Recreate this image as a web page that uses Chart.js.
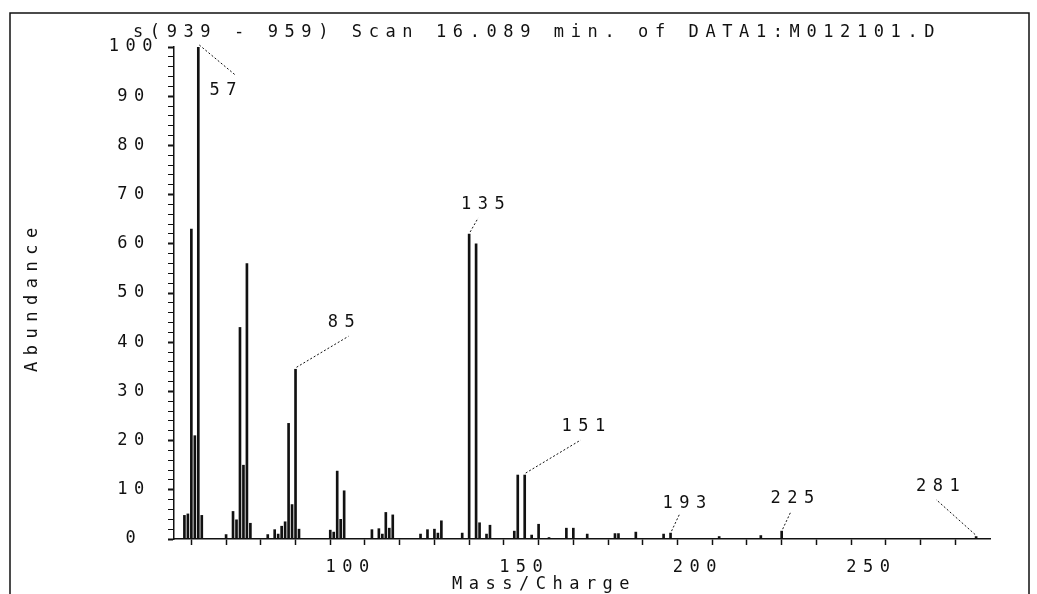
<!DOCTYPE html>
<html>
<head>
<meta charset="utf-8">
<title>Scan 16.089 min. of DATA1:M012101.D</title>
<script src="https://cdn.jsdelivr.net/npm/chart.js@4.4.1/dist/chart.umd.min.js"></script>
<style>
  body { margin: 0; background: #fff; }
  #wrap { width: 1037px; height: 594px; }
</style>
</head>
<body>
<div id="wrap"><canvas id="spectrum" width="1037" height="594"></canvas></div>

<script>
// m/z of every line in the spectrum and its relative abundance (%)
const massCharge = [
  53, 54, 55, 56, 57, 58,
  65, 67, 68, 69, 70, 71, 72,
  77, 79, 80, 81, 82, 83, 84, 85, 86,
  95, 96, 97, 98, 99,
  107, 109, 110, 111, 112, 113,
  121, 123, 125, 126, 127,
  133, 135, 137, 138, 140, 141,
  148, 149, 151, 153, 155, 158,
  163, 165, 169, 177, 178, 183, 191, 193,
  207, 219, 225, 281
];
const abundance = [
  4.8, 5.1, 63, 21, 100, 4.8,
  0.9, 5.6, 3.9, 43, 15, 56, 3.2,
  0.9, 1.9, 1.0, 2.6, 3.5, 23.5, 7.0, 34.5, 2.0,
  1.8, 1.4, 13.8, 4.0, 9.8,
  1.9, 2.1, 1.0, 5.4, 2.2, 4.9,
  1.0, 1.9, 2.0, 1.2, 3.7,
  1.2, 62, 60, 3.3, 1.0, 2.8,
  1.6, 13, 13, 0.8, 3.0, 0.3,
  2.2, 2.2, 1.0, 1.1, 1.1, 1.4, 1.0, 1.2,
  0.5, 0.7, 1.6, 0.5
];
// lines that carry their m/z as a label
const labelledPeaks = [57, 85, 135, 151, 193, 225, 281];

// axis tick labels
const xTickLabels = [100, 150, 200, 250];
const yTickLabels = [0, 10, 20, 30, 40, 50, 60, 70, 80, 90, 100];

const plotTitle = "s(939 - 959) Scan 16.089 min. of DATA1:M012101.D";
const xAxisTitle = "Mass/Charge";
const yAxisTitle = "Abundance";
</script>

<script>
const FONT = "'DejaVu Sans Mono', 'Liberation Mono', monospace";
const INK = '#111';
const SPACING = '6.5px';

// where each peak label sits, relative to the top of its line (px):
// [end of leader dx, dy, text centre dx, dy]
const labelOffsets = {
  57:  [37, 28, 25, 44],
  85:  [53, -33, 46, -47],
  135: [9, -16, 14, -29],
  151: [56, -35, 59, -48],
  193: [9, -19, 14, -30],
  225: [9, -19, 11, -33],
  281: [-40, -37, -38, -50]
};

const decor = {
  id: 'decor',
  beforeLayout(chart) { chart.ctx.letterSpacing = SPACING; },
  beforeDraw(chart) { chart.ctx.letterSpacing = SPACING; },
  afterDraw(chart) {
    const ctx = chart.ctx;
    const xs = chart.scales.x, ys = chart.scales.y;
    ctx.save();

    // page frame
    ctx.strokeStyle = INK;
    ctx.lineWidth = 1.5;
    ctx.beginPath();
    ctx.moveTo(10, 594);
    ctx.lineTo(10, 13);
    ctx.lineTo(1029, 13);
    ctx.lineTo(1029, 594);
    ctx.stroke();

    ctx.fillStyle = INK;
    ctx.font = '17px ' + FONT;
    ctx.textBaseline = 'middle';

    // title
    ctx.letterSpacing = '6.6px';
    ctx.textAlign = 'left';
    ctx.fillText(plotTitle, 133, 33);

    // axis titles
    ctx.letterSpacing = SPACING;
    ctx.fillText(xAxisTitle, 452, 585);
    ctx.save();
    ctx.translate(33, 372);
    ctx.rotate(-Math.PI / 2);
    ctx.fillText(yAxisTitle, 0, 0);
    ctx.restore();

    // peak labels and their dotted leaders
    ctx.textAlign = 'center';
    ctx.lineWidth = 1;
    ctx.setLineDash([2, 2]);
    labelledPeaks.forEach(m => {
      const i = massCharge.indexOf(m);
      const px = xs.getPixelForValue(m);
      const py = ys.getPixelForValue(abundance[i]);
      const o = labelOffsets[m];
      ctx.beginPath();
      ctx.moveTo(px + Math.sign(o[0]) * 1, py - 2);
      ctx.lineTo(px + o[0], py + o[1]);
      ctx.stroke();
      ctx.fillText(String(m), px + o[2] + 3, py + o[3]);
    });

    ctx.restore();
  }
};

new Chart(document.getElementById('spectrum'), {
  type: 'bar',
  data: {
    datasets: [{
      label: 'Abundance',
      data: massCharge.map((m, i) => ({ x: m, y: abundance[i] })),
      backgroundColor: INK,
      borderWidth: 0,
      barThickness: 2
    }]
  },
  options: {
    responsive: false,
    animation: false,
    devicePixelRatio: 1,
    layout: { padding: { left: 0, top: 47, right: 47, bottom: 0 } },
    plugins: {
      legend: { display: false },
      tooltip: { enabled: false }
    },
    scales: {
      x: {
        type: 'linear',
        min: 50,
        max: 285,
        offset: false,
        afterFit(scale) { scale.height = 55; },
        afterBuildTicks(scale) {
          scale.ticks = scale.ticks.filter(t => t.value % 10 === 0);
        },
        ticks: {
          stepSize: 10,
          autoSkip: false,
          maxRotation: 0,
          padding: 12,
          labelOffset: 3,
          color: INK,
          font: { family: FONT, size: 17 },
          callback: v => xTickLabels.includes(v) ? String(v) : ''
        },
        grid: { drawOnChartArea: false, tickLength: 6, color: INK, tickWidth: 1.5 },
        border: { color: INK, width: 1.5 }
      },
      y: {
        min: 0,
        max: 100,
        afterFit(scale) { scale.width = 174; },
        ticks: {
          stepSize: 2,
          autoSkip: false,
          crossAlign: 'center',
          padding: 9,
          color: INK,
          font: { family: FONT, size: 17 },
          callback: v => yTickLabels.includes(v) ? String(v) : ''
        },
        grid: {
          drawOnChartArea: false,
          tickLength: 6,
          color: INK,
          tickWidth: c => (c.tick && c.tick.value % 10 === 0) ? 2 : 1
        },
        border: { color: INK, width: 1.5 }
      }
    }
  },
  plugins: [decor]
});
</script>
</body>
</html>
